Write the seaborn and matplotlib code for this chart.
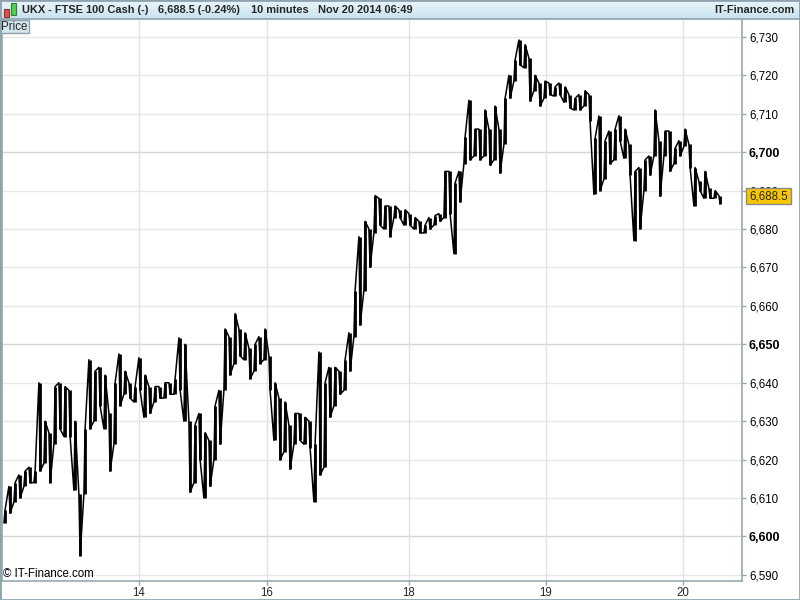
import numpy as np
import pandas as pd
import matplotlib
matplotlib.use("Agg")
import matplotlib.pyplot as plt
from matplotlib.patches import Rectangle
import seaborn as sns

# ---- data: 10-minute bars (high / low) ----
highs = [6607, 6613, 6614, 6616, 6617, 6618, 6617, 6640, 6630, 6627,
         6639, 6640, 6639, 6638, 6630, 6611, 6628, 6646, 6643, 6644,
         6642, 6632, 6640, 6647.5, 6643, 6640, 6639, 6646.5, 6642, 6639,
         6639, 6639, 6640, 6640, 6641, 6651.7, 6650, 6630, 6629, 6632,
         6627, 6625, 6634, 6638, 6654, 6652, 6658, 6654, 6653, 6649,
         6650, 6652, 6654, 6647, 6640, 6636, 6635, 6629, 6632, 6632,
         6631, 6630, 6624, 6648, 6640, 6644, 6644, 6643, 6646, 6653,
         6664, 6678, 6682, 6680, 6688.7, 6688, 6686, 6686, 6686, 6685,
         6685, 6684, 6683, 6682, 6681, 6683, 6683.5, 6684, 6695, 6695,
         6692, 6695, 6704, 6713.5, 6706, 6706, 6711, 6706, 6712, 6706,
         6714, 6720, 6724, 6729.2, 6728, 6724.5, 6720, 6718, 6718.5, 6718,
         6717, 6718, 6717, 6715, 6714, 6715, 6716, 6715, 6703.6, 6709.4,
         6703, 6705.5, 6706, 6709.5, 6706, 6702, 6695, 6696, 6698, 6699,
         6711, 6703, 6705.5, 6705.5, 6701, 6703, 6706, 6702, 6696, 6692.4,
         6695, 6690.6, 6690, 6688.7]
lows = [6603.5, 6606, 6609, 6610, 6613, 6614, 6614, 6617, 6619, 6614,
        6624, 6628, 6626, 6626, 6612, 6595, 6611, 6628, 6630, 6634,
        6628, 6617, 6624, 6634, 6637, 6636, 6635, 6638, 6631, 6632,
        6635, 6636, 6636, 6637, 6637, 6638, 6630, 6611.5, 6614, 6620,
        6610, 6613, 6620, 6624, 6638, 6642, 6645, 6647, 6646, 6641,
        6643, 6645, 6646, 6638, 6625, 6620, 6622, 6617.5, 6624, 6625,
        6624, 6623, 6609, 6616, 6618, 6631, 6634, 6637, 6638, 6643,
        6652, 6655, 6664, 6670, 6679, 6681, 6680, 6678, 6683, 6683,
        6681, 6681, 6680, 6679, 6679, 6680, 6681, 6682, 6683, 6684,
        6673.6, 6687, 6697, 6698, 6699, 6698, 6699, 6696.6, 6698, 6694.5,
        6702, 6714, 6718.5, 6722.7, 6722, 6713.3, 6716, 6712, 6714, 6715,
        6714.6, 6715, 6713, 6711.5, 6711, 6711, 6712, 6708, 6689, 6690,
        6693, 6697, 6698, 6703, 6698.4, 6694, 6677, 6680, 6690, 6694,
        6699, 6688.5, 6699, 6695, 6697, 6699, 6701.5, 6696, 6686, 6690,
        6688, 6688, 6688, 6686.6]
last_price = 6688.5

y_ticks = list(range(6590, 6731, 10))
bold_ticks = [6600, 6650, 6700]
day_labels = ["14", "16", "18", "19", "20"]
day_tick_pos = [26.9, 52.5, 80.9, 108.3, 135.7]

# ---- build path through each bar's range ----
xs, ys = [], []
for i, (h, l) in enumerate(zip(highs, lows)):
    first, second = (l, h) if i % 2 == 0 else (h, l)
    xs += [i - 0.12, i + 0.12]
    ys += [first, second]
df = pd.DataFrame({"bar": xs, "price": ys})

sns.set_theme(style="white")
plt.rcParams["font.family"] = ["Liberation Sans", "DejaVu Sans"]

W, H = 800, 600
fig = plt.figure(figsize=(8, 6), dpi=100)
fig.patch.set_facecolor("white")

def fx(px):
    return px / W

def fy(py):
    return 1 - py / H

# main axes: x 2..742, y 20..581
ax = fig.add_axes([fx(2), fy(581), fx(740), (581 - 20) / H])
ax.set_facecolor("white")
for yt in y_ticks:
    ax.axhline(yt, color="#d6d6d6" if yt in bold_ticks else "#e8e8e8", lw=1, zorder=0)
for xt in day_tick_pos:
    ax.axvline(xt, color="#e2e2e2", lw=1, zorder=0)

idx = np.arange(len(highs))
ax.vlines(idx, lows, highs, color="black", lw=2.0, zorder=2)
sns.lineplot(data=df, x="bar", y="price", sort=False, estimator=None,
             color="black", lw=1.1, ax=ax, zorder=3)

ax.set_xlim(-0.5, 147.5)
ax.set_ylim(6588.4, 6734.4)
ax.set_xlabel("")
ax.set_ylabel("")

ax.yaxis.tick_right()
ax.set_yticks(y_ticks)
ax.set_yticklabels([f"{v:,}" for v in y_ticks])
for lab, v in zip(ax.get_yticklabels(), y_ticks):
    lab.set_fontsize(8.3)
    lab.set_color("black")
    if v in bold_ticks:
        lab.set_fontweight("bold")
        lab.set_fontsize(9)
ax.set_xticks(day_tick_pos)
ax.set_xticklabels(day_labels, fontsize=8.3)
ax.tick_params(axis="both", which="both", length=3, width=1, color="#98a8b0",
               direction="out", pad=2)
ax.tick_params(axis="y", right=True, left=False, labelright=True, labelleft=False)
ax.tick_params(axis="x", bottom=True, pad=1)

for s in ["left", "right", "bottom"]:
    ax.spines[s].set_color("#98a8b0")
    ax.spines[s].set_linewidth(1.2)
ax.spines["top"].set_visible(False)

# watermark
ax.text(0.002, 0.001, "\u00a9 IT-Finance.com", transform=ax.transAxes,
        fontsize=8.3, color="black", ha="left", va="bottom")

# header bar with gradient
hax = fig.add_axes([0, fy(19), 1, 19 / H])
grad = np.linspace(0, 1, 50).reshape(-1, 1)
cmap = matplotlib.colors.LinearSegmentedColormap.from_list("hdr", ["#eaf6fb", "#c9e2ee"])
hax.imshow(grad, aspect="auto", cmap=cmap, extent=[0, 1, 0, 1], origin="upper")
hax.set_xlim(0, 1)
hax.set_ylim(0, 1)
hax.axis("off")
fig.add_artist(Rectangle((0, fy(19)), 1, 19 / H, transform=fig.transFigure,
                         fill=False, ec="#8fa3ae", lw=1.2))

# candle icon
fig.add_artist(Rectangle((fx(4), fy(17)), fx(5), 8 / H, transform=fig.transFigure,
                         fc="#e05050", ec="#903030", lw=0.8))
fig.add_artist(Rectangle((fx(11), fy(15)), fx(5), 12 / H, transform=fig.transFigure,
                         fc="#50d050", ec="#308030", lw=0.8))

hdr_y = fy(10)
hfs = 7.9
fig.text(fx(22), hdr_y, "UKX - FTSE 100 Cash (-)", fontsize=hfs, fontweight="bold", va="center")
fig.text(fx(158), hdr_y, "6,688.5 (-0.24%)", fontsize=hfs, fontweight="bold", va="center")
fig.text(fx(251), hdr_y, "10 minutes", fontsize=hfs, fontweight="bold", va="center")
fig.text(fx(318), hdr_y, "Nov 20 2014 06:49", fontsize=hfs, fontweight="bold", va="center")
fig.text(fx(794), hdr_y, "IT-Finance.com", fontsize=hfs, fontweight="bold", va="center", ha="right")

# "Price" box
fig.add_artist(Rectangle((fx(0), fy(33)), fx(29), 13 / H, transform=fig.transFigure,
                         fc="#d3e6ee", ec="#8fa3ae", lw=1))
fig.text(fx(14.5), fy(26.5), "Price", fontsize=8.3, ha="center", va="center")

# last price tag on the axis
ytag = ax.transData.transform((0, last_price))[1] / fig.dpi / 6.0
fig.add_artist(Rectangle((fx(746), ytag - 8 / H), fx(45), 16 / H, transform=fig.transFigure,
                         fc="#f7c600", ec="#8a8a8a", lw=1, zorder=5))
fig.text(fx(768.5), ytag, f"{last_price:,.1f}", fontsize=8.3, ha="center", va="center", zorder=6)

# outer border
fig.add_artist(Rectangle((0, 0), 1, 1, transform=fig.transFigure, fill=False,
                         ec="#8fa3ae", lw=2))

fig.savefig("out.png", dpi=100)
